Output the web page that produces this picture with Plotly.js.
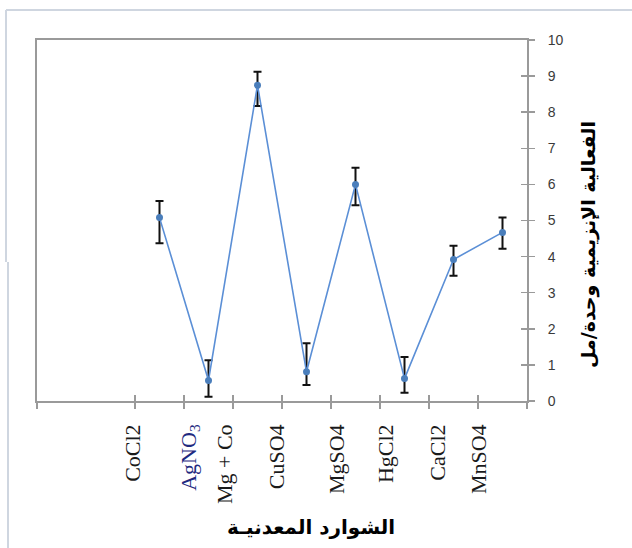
<!DOCTYPE html>
<html>
<head>
<meta charset="utf-8">
<script src="https://cdn.plot.ly/plotly-3.0.1.min.js"></script>
<style>
  html, body { margin: 0; padding: 0; background: #ffffff; }
  #chart { width: 632px; height: 548px; }
</style>
</head>
<body>
<div id="chart"></div>
<script>
// ---- data ----
const categories = ["CoCl2", "AgNO<sub>3</sub>", "Mg + Co", "CuSO4", "MgSO4", "HgCl2", "CaCl2", "MnSO4"];
const activity   = [5.08, 0.57, 8.75, 0.81, 6.00, 0.62, 3.92, 4.67];
const errPlus    = [0.46, 0.56, 0.37, 0.79, 0.46, 0.60, 0.38, 0.41];
const errMinus   = [0.71, 0.45, 0.58, 0.37, 0.58, 0.39, 0.45, 0.45];
const yTicks     = [0, 1, 2, 3, 4, 5, 6, 7, 8, 9, 10];
const xTitle = "الشوارد المعدنيـة";
const yTitle = "الفعالية الإنزيمية وحدة/مل";

// ---- layout helpers (positions, not data) ----
const slotOffset = 2.5;                       // first point sits in the third slot
const xPos = categories.map((_, i) => i + slotOffset);
const slotTicks = [0, 2, 3, 4, 5, 6, 7, 8, 9, 10];
const labelPos = [1.965, 3.09, 3.84, 4.89, 6.12, 7.12, 8.19, 9.02];
const labelText = categories.map((c, i) =>
  i === 1 ? '<span style="color:#1f2a80">' + c + '</span>' : c);

const axisGray = '#9a9a9a';

const traces = [
  {
    x: xPos, y: activity, type: 'scatter', mode: 'lines+markers',
    line: { color: '#5b8fd6', width: 1.6 },
    marker: { color: '#4a7ebb', size: 7 },
    error_y: { type: 'data', symmetric: false, array: errPlus, arrayminus: errMinus,
               color: '#111111', thickness: 2, width: 4 },
    showlegend: false, hoverinfo: 'skip'
  },
  { x: [], y: [], xaxis: 'x2', yaxis: 'y', showlegend: false, hoverinfo: 'skip' },
  { x: [], y: [], xaxis: 'x3', yaxis: 'y', showlegend: false, hoverinfo: 'skip' },
  { x: [], y: [], xaxis: 'x', yaxis: 'y2', showlegend: false, hoverinfo: 'skip' }
];

const layout = {
  width: 632, height: 548,
  margin: { l: 37, r: 105, t: 40, b: 147, pad: 0 },
  paper_bgcolor: '#ffffff', plot_bgcolor: '#ffffff',
  showlegend: false,
  xaxis: {
    range: [0, 10], showgrid: false, zeroline: false,
    showline: true, linecolor: axisGray, linewidth: 2, mirror: true,
    tickmode: 'array', tickvals: slotTicks, ticks: 'outside', ticklen: 6,
    tickcolor: axisGray, tickwidth: 1.5, showticklabels: false, fixedrange: true
  },
  xaxis2: {
    overlaying: 'x', anchor: 'y', range: [0, 10], showgrid: false, zeroline: false,
    showline: false, tickmode: 'array', tickvals: slotTicks, ticks: 'inside', ticklen: 6,
    tickcolor: axisGray, tickwidth: 1.5, showticklabels: false
  },
  xaxis3: {
    overlaying: 'x', anchor: 'y', range: [0, 10], showgrid: false, zeroline: false,
    showline: false, tickmode: 'array', tickvals: labelPos, ticktext: labelText,
    ticks: '', tickangle: -90, ticklabelstandoff: 18,
    tickfont: { family: 'Liberation Serif, Times New Roman, serif', size: 22, color: '#1a1a1a' }
  },
  yaxis: {
    side: 'right', range: [0, 10], showgrid: false, zeroline: false,
    showline: true, linecolor: axisGray, linewidth: 2, mirror: true,
    tickmode: 'array', tickvals: yTicks, ticks: 'outside', ticklen: 6,
    tickcolor: axisGray, tickwidth: 1.5, ticklabelstandoff: 10,
    tickfont: { family: 'Liberation Sans, Arial, sans-serif', size: 14, color: '#3a3a3a' },
    fixedrange: true
  },
  yaxis2: {
    overlaying: 'y', side: 'right', anchor: 'x', range: [0, 10], showgrid: false, zeroline: false,
    showline: false, tickmode: 'array', tickvals: yTicks, ticks: 'inside', ticklen: 6,
    tickcolor: axisGray, tickwidth: 1.5, showticklabels: false
  },
  annotations: [
    { text: '<b>' + xTitle + '</b>', xref: 'paper', yref: 'paper',
      x: (311 - 37) / 490, y: (401 - 527) / 361, xanchor: 'center', yanchor: 'middle',
      showarrow: false, font: { family: 'DejaVu Sans, sans-serif', size: 20, color: '#000000' } },
    { text: '<b>' + yTitle + '</b>', xref: 'paper', yref: 'paper',
      x: (588 - 37) / 490, y: (401 - 245) / 361, xanchor: 'center', yanchor: 'middle',
      textangle: -90,
      showarrow: false, font: { family: 'DejaVu Sans, sans-serif', size: 19, color: '#000000' } }
  ],
  shapes: [
    { type: 'line', xref: 'paper', yref: 'paper',
      x0: (6 - 37) / 490, x1: (640 - 37) / 490, y0: (401 - 10) / 361, y1: (401 - 10) / 361,
      line: { color: '#cfd6e0', width: 2 } },
    { type: 'line', xref: 'paper', yref: 'paper',
      x0: (6 - 37) / 490, x1: (6 - 37) / 490, y0: (401 - 10) / 361, y1: (401 - 262) / 361,
      line: { color: '#cfd6e0', width: 2 } },
    { type: 'line', xref: 'paper', yref: 'paper',
      x0: (8 - 37) / 490, x1: (8 - 37) / 490, y0: (401 - 262) / 361, y1: (401 - 560) / 361,
      line: { color: '#cfd6e0', width: 2 } }
  ]
};

Plotly.newPlot('chart', traces, layout, { staticPlot: true, displayModeBar: false });
</script>
</body>
</html>
